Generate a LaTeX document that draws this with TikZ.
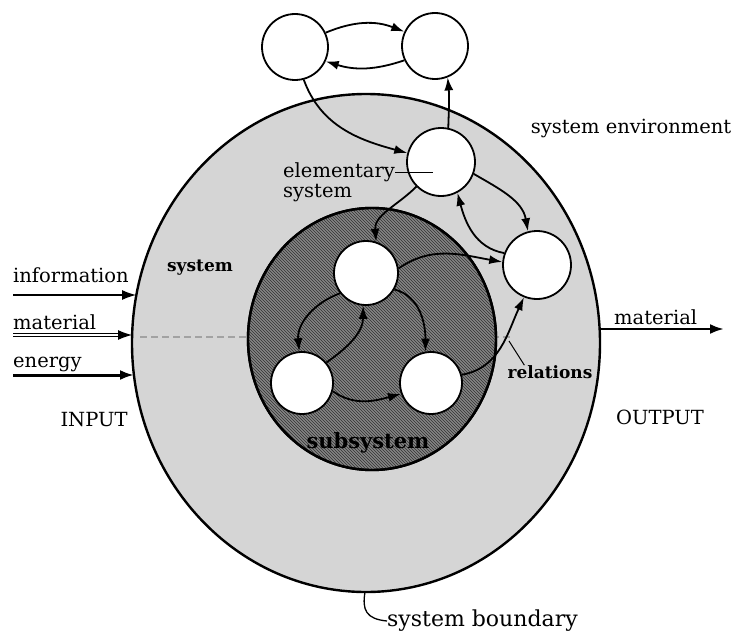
\documentclass[tikz,border=0pt]{standalone}
\usepackage{fontspec}
\setmainfont{DejaVu Serif}
\usetikzlibrary{arrows.meta,patterns,shapes.geometric}
\begin{document}
\begin{tikzpicture}[x=1pt,y=-1pt,
  lbl/.style={font=\fontsize{19.5}{23}\selectfont, inner sep=0pt},
  blbl/.style={font=\bfseries\fontsize{17}{20}\selectfont, inner sep=0pt},
  elem/.style={circle, draw, line width=1.8pt, fill=white, inner sep=0pt},
  rel/.style={line width=1.8pt, -{Latex[length=13pt,width=9pt]}},
  inarrow/.style={-{Latex[length=14pt,width=10pt]}},
]
\useasboundingbox (0,0) rectangle (736,634);
% system
\node[ellipse, draw, line width=2.4pt, fill=gray!33, minimum width=468pt, minimum height=498pt, inner sep=0pt] (sys) at (366,343) {};
% material streak through the system
\draw[black!60, line width=1.5pt, dash pattern=on 7pt off 4pt, opacity=0.45] (140,337) -- (510,337);
% subsystem
\node[ellipse, draw, line width=2.4pt, fill=black!48, minimum width=248pt, minimum height=262pt, inner sep=0pt] (sub) at (372,339) {};
\fill[pattern=north west lines, pattern color=black!80] (372,339) ellipse [x radius=123pt, y radius=130pt];
\node[ellipse, draw, line width=2.4pt, minimum width=248pt, minimum height=262pt, inner sep=0pt] at (372,339) {};

% elements
\node[elem, minimum size=66pt] (tl) at (295,47) {};
\node[elem, minimum size=66pt] (tr) at (435,46) {};
\node[elem, minimum size=68pt] (el) at (441,162) {};
\node[elem, minimum size=68pt] (rc) at (537,265) {};
\node[elem, minimum size=64pt] (st) at (366,273) {};
\node[elem, minimum size=62pt] (bl) at (302,383) {};
\node[elem, minimum size=62pt] (br) at (431,383) {};

% relations
\draw[rel] (tl.25) to[bend left=22] (tr.155);
\draw[rel] (tr.205) to[bend left=18] (tl.-25);
\draw[rel] (tl.-75) to[out=-70,in=165] (el.165);
\draw[rel] (el.78) to[out=88,in=-85] (tr.-68);
\draw[rel] (el.225) to[out=225,in=95] (st.72);
\draw[rel] (el.-20) to[out=-30,in=100] (rc.105);
\draw[rel] (rc.160) to[out=170,in=-75] (el.-62);
\draw[rel] (st.8) to[out=35,in=170] (rc.175);
\draw[rel] (br.15) to[out=10,in=-115] (rc.-112);
\draw[rel] (st.218) to[out=200,in=95] (bl.95);
\draw[rel] (bl.40) to[out=35,in=-90] (st.-95);
\draw[rel] (st.-30) to[out=-15,in=90] (br.100);
\draw[rel] (bl.-15) to[out=-35,in=195] (br.200);

% labels
\node[lbl] (env) at (631,128) {system environment};
\node[lbl, anchor=west] (elt1) at (283,172) {elementary};
\node[lbl, anchor=west] (elt2) at (283,193) {system};
\draw[line width=1pt] (elt1.east) -- ++(38,0);
\node[blbl] (systxt) at (200,268) {system};
\node[blbl, font=\bfseries\fontsize{21}{24}\selectfont] (subtxt) at (368,443) {subsystem};
\node[blbl] (reltxt) at (550,372) {relations};
\coordinate (relpt) at (509,341);
\draw[line width=1pt] (relpt) -- ([xshift=17pt]reltxt.north west);

% input
\node[lbl, anchor=west] (info) at (13,275) {information};
\node[lbl, anchor=west] (mat) at (13,322) {material};
\node[lbl, anchor=west] (ene) at (13,364) {energy};
\node[lbl] (input) at (94,420) {INPUT};
\coordinate (i1) at (13,295); \coordinate (i1e) at (136,295);
\coordinate (i2) at (13,335); \coordinate (i2e) at (132,335);
\coordinate (i3) at (13,375); \coordinate (i3e) at (134,375);
\draw[inarrow, line width=1.1pt] (i1) -- (i1e);
\draw[inarrow, line width=1.1pt, double, double distance=1.6pt] (i2) -- (i2e);
\draw[inarrow, line width=3pt] (i3) -- (i3e);

% output
\node[lbl, anchor=west] (omat) at (614,317) {material};
\node[lbl] (output) at (660,417) {OUTPUT};
\coordinate (o1) at (600,329); \coordinate (o1e) at (724,329);
\draw[-{Latex[length=14pt,width=10pt]}, line width=2.6pt] (o1) -- (o1e);

% boundary
\node[lbl, anchor=west, font=\fontsize{22}{26}\selectfont] (bnd) at (387,621) {system boundary};
\coordinate (bpt) at (365,592);
\draw[line width=1.3pt] (bpt) .. controls (362,610) and (366,619) .. (bnd.west);
\end{tikzpicture}
\end{document}
